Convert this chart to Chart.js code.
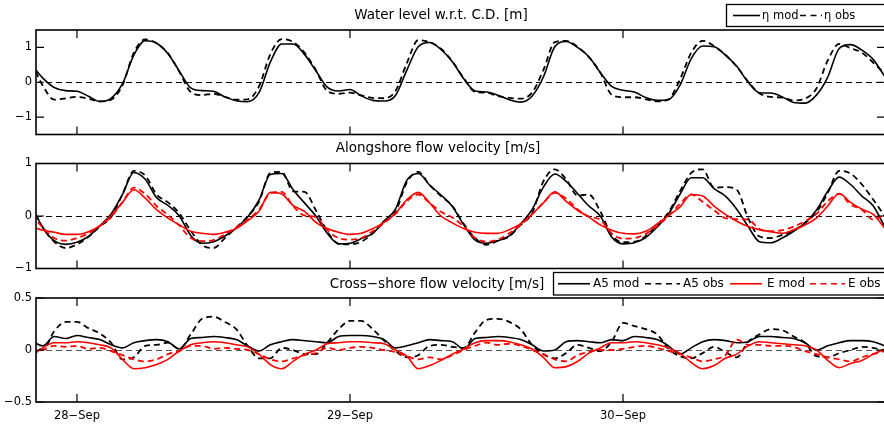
<!DOCTYPE html>
<html><head><meta charset="utf-8">
<script src="https://cdn.jsdelivr.net/npm/chart.js@4.4.0/dist/chart.umd.min.js"></script>
<style>
html,body{margin:0;padding:0;background:#fff;overflow:hidden;width:884px;height:424px;position:relative}
canvas{position:absolute;left:0;top:0}
</style></head><body>
<canvas id="c1" width="900" height="424"></canvas>
<canvas id="c2" width="900" height="424"></canvas>
<canvas id="c3" width="900" height="424"></canvas>
<script>
// time in hours relative to 28-Sep 00:00
const hours = [-4,-3,-2,-1,0,1,2,3,4,5,6,7,8,9,10,11,12,13,14,15,16,17,18,19,20,21,22,23,24,25,26,27,28,29,30,31,32,33,34,35,36,37,38,39,40,41,42,43,44,45,46,47,48,49,50,51,52,53,54,55,56,57,58,59,60,61,62,63,64,65,66,67,68,69,70,71];
const dayTicks = [0, 24, 48];
const dayLabels = ['28\u2212Sep', '29\u2212Sep', '30\u2212Sep'];

// Panel 1: water level [m]
const etaMod = [0.50,0.12,-0.15,-0.24,-0.26,-0.40,-0.55,-0.46,-0.04,0.78,1.19,1.12,0.82,0.32,-0.16,-0.24,-0.26,-0.42,-0.53,-0.56,-0.30,0.58,1.10,1.10,0.80,0.33,-0.14,-0.25,-0.21,-0.39,-0.52,-0.54,-0.38,0.35,1.02,1.14,0.94,0.59,0.10,-0.25,-0.28,-0.37,-0.50,-0.57,-0.40,0.15,1.02,1.17,1.00,0.73,0.28,-0.12,-0.23,-0.28,-0.44,-0.52,-0.50,-0.09,0.68,1.04,1.02,0.78,0.46,0.00,-0.30,-0.31,-0.42,-0.58,-0.60,-0.37,0.15,0.97,1.08,0.92,0.65,0.17];
const etaObs = [0.57,-0.10,-0.50,-0.46,-0.42,-0.47,-0.55,-0.50,-0.09,0.85,1.23,1.12,0.83,0.30,-0.28,-0.37,-0.33,-0.42,-0.50,-0.49,-0.12,0.81,1.24,1.16,0.85,0.35,-0.25,-0.33,-0.30,-0.38,-0.45,-0.46,-0.25,0.55,1.21,1.15,0.96,0.60,0.12,-0.28,-0.30,-0.40,-0.45,-0.47,-0.30,0.35,1.15,1.19,1.02,0.72,0.28,-0.36,-0.43,-0.43,-0.49,-0.55,-0.49,0.08,0.85,1.19,1.04,0.79,0.45,0.02,-0.32,-0.42,-0.44,-0.52,-0.47,-0.18,0.63,1.10,0.98,0.85,0.56,0.25];

// Panel 2: alongshore flow velocity [m/s]
const alongA5Mod = [0.20,-0.22,-0.47,-0.54,-0.50,-0.39,-0.19,0.04,0.41,0.83,0.70,0.35,0.20,0.00,-0.37,-0.52,-0.49,-0.38,-0.23,-0.02,0.30,0.79,0.81,0.50,0.25,0.00,-0.33,-0.53,-0.52,-0.43,-0.33,-0.09,0.13,0.68,0.81,0.59,0.40,0.18,-0.17,-0.46,-0.52,-0.47,-0.38,-0.15,0.12,0.55,0.80,0.66,0.43,0.19,0.00,-0.40,-0.53,-0.51,-0.41,-0.21,0.04,0.41,0.73,0.73,0.52,0.38,0.13,-0.20,-0.49,-0.51,-0.42,-0.29,-0.13,0.11,0.47,0.74,0.60,0.38,0.19,-0.20];
const alongA5Obs = [0.20,-0.22,-0.49,-0.61,-0.54,-0.40,-0.20,-0.02,0.41,0.86,0.77,0.41,0.26,0.05,-0.28,-0.55,-0.61,-0.42,-0.22,-0.01,0.27,0.82,0.84,0.47,0.46,0.11,-0.29,-0.53,-0.54,-0.49,-0.33,-0.12,0.08,0.64,0.84,0.59,0.38,0.19,-0.15,-0.42,-0.55,-0.47,-0.39,-0.17,0.05,0.66,0.89,0.70,0.39,0.41,0.09,-0.36,-0.50,-0.49,-0.38,-0.17,0.07,0.47,0.82,0.89,0.54,0.55,0.50,-0.04,-0.39,-0.42,-0.36,-0.28,-0.13,0.07,0.44,0.86,0.81,0.60,0.31,0.00];
const alongEMod = [-0.20,-0.27,-0.31,-0.35,-0.35,-0.30,-0.19,0.01,0.26,0.50,0.34,0.12,-0.04,-0.17,-0.29,-0.33,-0.35,-0.31,-0.24,-0.09,0.09,0.45,0.42,0.20,0.09,-0.12,-0.24,-0.31,-0.35,-0.33,-0.24,-0.12,0.05,0.31,0.45,0.25,0.00,-0.13,-0.24,-0.31,-0.33,-0.33,-0.26,-0.15,0.03,0.25,0.46,0.28,0.11,-0.02,-0.17,-0.27,-0.33,-0.34,-0.29,-0.15,0.01,0.17,0.41,0.38,0.19,0.03,-0.10,-0.20,-0.26,-0.30,-0.33,-0.26,-0.17,-0.04,0.19,0.43,0.26,0.13,0.03,-0.23];
const alongEObs = [0.03,-0.22,-0.42,-0.47,-0.42,-0.33,-0.19,-0.02,0.26,0.54,0.42,0.19,0.02,-0.18,-0.42,-0.48,-0.46,-0.35,-0.22,-0.07,0.12,0.43,0.46,0.19,0.01,-0.02,-0.27,-0.42,-0.45,-0.42,-0.29,-0.13,0.04,0.28,0.41,0.25,0.08,-0.03,-0.20,-0.42,-0.49,-0.45,-0.33,-0.17,0.03,0.25,0.44,0.33,0.13,-0.01,-0.07,-0.33,-0.43,-0.42,-0.34,-0.19,0.00,0.23,0.41,0.27,0.11,-0.04,-0.06,-0.07,-0.25,-0.29,-0.27,-0.20,-0.10,0.04,0.28,0.42,0.22,0.12,-0.07,0.03];

// Panel 3: cross-shore flow velocity [m/s]
const crossA5Mod = [0.09,0.04,0.13,0.11,0.14,0.12,0.10,0.05,0.02,0.07,0.09,0.10,0.08,0.01,0.11,0.12,0.13,0.12,0.10,0.04,-0.01,0.05,0.08,0.10,0.09,0.08,0.07,0.13,0.14,0.14,0.13,0.10,0.02,0.04,0.07,0.10,0.09,0.08,0.01,0.11,0.12,0.13,0.12,0.10,0.05,-0.01,0.00,0.08,0.09,0.08,0.07,0.10,0.09,0.13,0.12,0.10,0.04,-0.04,0.02,0.08,0.10,0.09,0.07,0.08,0.13,0.13,0.12,0.11,0.07,0.00,0.04,0.07,0.09,0.09,0.08,0.04];
const crossA5Obs = [0.07,0.00,0.18,0.27,0.27,0.21,0.16,0.07,-0.09,-0.07,0.04,0.05,0.07,0.01,0.15,0.30,0.32,0.27,0.20,0.04,-0.08,-0.08,0.02,0.00,-0.04,-0.04,0.07,0.20,0.28,0.28,0.20,0.09,-0.01,-0.07,-0.05,0.04,0.05,0.03,0.02,0.17,0.29,0.30,0.27,0.20,0.05,-0.04,-0.08,-0.03,0.05,0.02,-0.01,0.08,0.26,0.23,0.20,0.15,0.01,-0.06,-0.08,-0.03,0.03,-0.02,-0.07,0.08,0.15,0.20,0.19,0.13,0.07,-0.06,-0.07,-0.03,0.00,0.03,0.02,-0.01];
const crossEMod = [-0.06,0.02,0.07,0.07,0.08,0.07,0.05,0.02,-0.09,-0.18,-0.17,-0.14,-0.09,-0.01,0.05,0.07,0.08,0.07,0.05,0.03,-0.04,-0.14,-0.18,-0.11,-0.04,0.00,0.06,0.07,0.08,0.08,0.07,0.06,0.00,-0.06,-0.18,-0.15,-0.10,-0.04,0.01,0.07,0.09,0.09,0.08,0.05,0.01,-0.07,-0.17,-0.16,-0.11,-0.03,0.02,0.07,0.07,0.08,0.07,0.05,0.02,-0.03,-0.12,-0.18,-0.15,-0.08,-0.04,0.04,0.08,0.07,0.06,0.05,0.04,0.00,-0.10,-0.17,-0.13,-0.10,-0.04,0.01];
const crossEObs = [-0.02,0.00,0.04,0.03,0.04,0.01,0.02,-0.01,-0.05,-0.09,-0.11,-0.09,-0.04,-0.01,0.04,0.04,0.01,0.02,0.01,0.00,-0.04,-0.09,-0.11,-0.08,-0.05,-0.03,0.02,0.00,0.02,0.03,0.02,0.00,-0.02,-0.06,-0.09,-0.07,-0.09,-0.05,0.00,0.04,0.07,0.05,0.06,0.04,0.00,-0.04,-0.09,-0.11,-0.05,-0.02,0.00,0.00,0.01,0.03,0.04,0.02,-0.01,-0.04,-0.07,-0.11,-0.09,-0.05,0.10,0.05,0.05,0.04,0.04,0.03,-0.01,-0.04,-0.07,-0.09,-0.11,-0.07,-0.04,-0.01];

const yTicks1 = [-1, 0, 1], yLabels1 = ['\u22121', '0', '1'];
const yTicks2 = [-1, 0, 1], yLabels2 = ['\u22121', '0', '1'];
const yTicks3 = [-0.5, 0, 0.5], yLabels3 = ['\u22120.5', '0', '0.5'];

const FAM = 'DejaVu Sans';
const X_MIN = -3.6, X_MAX = 71.03;
const DASH = [6, 4];

function xy(arr) { return hours.map((h, i) => ({x: h, y: arr[i]})); }

const decor = {
  id: 'decor',
  beforeDatasetsDraw(chart, args, o) {
    const {ctx, chartArea: a, scales: {y}} = chart;
    const py = y.getPixelForValue(0);
    ctx.save();
    ctx.strokeStyle = o.zeroColor; ctx.lineWidth = 1; ctx.setLineDash([6, 4]);
    ctx.beginPath(); ctx.moveTo(a.left, Math.round(py) + 0.5); ctx.lineTo(a.right, Math.round(py) + 0.5); ctx.stroke();
    ctx.restore();
  },
  afterDatasetsDraw(chart, args, o) {
    const {ctx, chartArea: a, scales: {x, y}} = chart;
    ctx.save();
    ctx.setLineDash([]);
    ctx.strokeStyle = '#000';
    ctx.lineWidth = 1.6;
    ctx.strokeRect(a.left, a.top, a.right - a.left, a.bottom - a.top);
    ctx.lineWidth = 1.2;
    ctx.beginPath();
    o.yTicks.forEach(v => {
      const p = y.getPixelForValue(v);
      ctx.moveTo(a.left, p); ctx.lineTo(a.left + 8, p);
      ctx.moveTo(a.right, p); ctx.lineTo(a.right - 8, p);
    });
    dayTicks.forEach(v => {
      const p = x.getPixelForValue(v);
      ctx.moveTo(p, a.top); ctx.lineTo(p, a.top + 8);
      ctx.moveTo(p, a.bottom); ctx.lineTo(p, a.bottom - 8);
    });
    ctx.stroke();
    ctx.fillStyle = '#000';
    ctx.font = '13.5px "' + FAM + '"';
    ctx.textAlign = 'center'; ctx.textBaseline = 'middle';
    ctx.fillText(o.title, o.titleX, o.titleY);
    if (o.legend) {
      const L = o.legend;
      ctx.fillStyle = '#fff';
      ctx.fillRect(L.left, L.top, L.right - L.left, L.bottom - L.top);
      ctx.strokeStyle = '#000'; ctx.lineWidth = 1.3;
      ctx.strokeRect(L.left, L.top, L.right - L.left, L.bottom - L.top);
      const cy = (L.top + L.bottom) / 2;
      ctx.font = L.fontSize + 'px "' + FAM + '"';
      ctx.textAlign = 'left';
      L.items.forEach(it => {
        const ds = chart.data.datasets[it.ds];
        ctx.strokeStyle = ds.borderColor; ctx.lineWidth = 1.6;
        ctx.setLineDash(ds.borderDash ? [6, 4.5] : []);
        ctx.beginPath(); ctx.moveTo(it.x1, cy); ctx.lineTo(it.x2, cy); ctx.stroke();
        ctx.setLineDash([]);
        ctx.fillStyle = '#000';
        ctx.fillText(ds.label, it.tx, cy + 0.5);
      });
    }
    ctx.restore();
  }
};

function makePanel(id, p) {
  const xh = p.showX ? 22 : 0;
  return new Chart(document.getElementById(id), {
    type: 'line',
    data: { datasets: p.datasets },
    options: {
      responsive: false, animation: false, devicePixelRatio: 1,
      layout: { padding: { left: 0, right: 15, top: p.top, bottom: 424 - p.bottom - xh } },
      elements: { point: { radius: 0 }, line: { cubicInterpolationMode: 'monotone', borderWidth: 1.6 } },
      plugins: {
        legend: { display: false }, tooltip: { enabled: false }, title: { display: false },
        decor: { yTicks: p.yTicks, title: p.title, titleX: p.titleX, titleY: p.titleY, legend: p.legend, zeroColor: p.zeroColor }
      },
      scales: {
        x: {
          type: 'linear', min: X_MIN, max: X_MAX,
          grid: { display: false, drawTicks: false }, border: { display: false },
          afterBuildTicks: s => { s.ticks = dayTicks.map(v => ({ value: v })); },
          afterFit: s => { s.height = xh; },
          ticks: { display: p.showX, autoSkip: false, maxRotation: 0, padding: 7, color: '#000',
                   font: { family: FAM, size: 11.5 }, callback: (v, i) => dayLabels[i] }
        },
        y: {
          min: p.ymin, max: p.ymax,
          grid: { display: false, drawTicks: false }, border: { display: false },
          afterBuildTicks: s => { s.ticks = p.yTicks.map(v => ({ value: v })); },
          afterFit: s => { s.width = 36; },
          ticks: { padding: 4, color: '#000', font: { family: FAM, size: 11.5 }, callback: (v, i) => p.yLabels[i] }
        }
      }
    },
    plugins: [decor]
  });
}

makePanel('c1', {
  top: 30, bottom: 134.5, ymin: -1.5, ymax: 1.5, yTicks: yTicks1, yLabels: yLabels1, showX: false,
  title: 'Water level w.r.t. C.D. [m]', titleX: 441, titleY: 15, zeroColor: '#000',
  datasets: [
    { label: '\u03b7 mod', data: xy(etaMod), borderColor: '#000', order: 2 },
    { label: '\u03b7 obs', data: xy(etaObs), borderColor: '#000', borderDash: DASH, borderWidth: 1.8, order: 1 }
  ],
  legend: { left: 726.5, top: 4.5, right: 895, bottom: 26.5, fontSize: 11.5,
            items: [ { ds: 0, x1: 733, x2: 760, tx: 762 }, { ds: 1, x1: 800, x2: 822, tx: 824 } ] }
});

makePanel('c2', {
  top: 163.5, bottom: 268.5, ymin: -1, ymax: 1, yTicks: yTicks2, yLabels: yLabels2, showX: false,
  title: 'Alongshore flow velocity [m/s]', titleX: 438, titleY: 148, zeroColor: '#000',
  datasets: [
    { label: 'A5 mod', data: xy(alongA5Mod), borderColor: '#000', order: 4 },
    { label: 'A5 obs', data: xy(alongA5Obs), borderColor: '#000', borderDash: DASH, borderWidth: 1.8, order: 3 },
    { label: 'E mod', data: xy(alongEMod), borderColor: '#ff0000', order: 2 },
    { label: 'E obs', data: xy(alongEObs), borderColor: '#ff0000', borderDash: DASH, borderWidth: 1.8, order: 1 }
  ],
  legend: null
});

makePanel('c3', {
  top: 298, bottom: 402, ymin: -0.5, ymax: 0.5, yTicks: yTicks3, yLabels: yLabels3, showX: true,
  title: 'Cross\u2212shore flow velocity [m/s]', titleX: 437, titleY: 284, zeroColor: '#555',
  datasets: [
    { label: 'A5 mod', data: xy(crossA5Mod), borderColor: '#000', order: 4 },
    { label: 'A5 obs', data: xy(crossA5Obs), borderColor: '#000', borderDash: DASH, borderWidth: 1.8, order: 3 },
    { label: 'E mod', data: xy(crossEMod), borderColor: '#ff0000', order: 2 },
    { label: 'E obs', data: xy(crossEObs), borderColor: '#ff0000', borderDash: DASH, borderWidth: 1.8, order: 1 }
  ],
  legend: { left: 553.5, top: 272.5, right: 895, bottom: 295, fontSize: 12,
            items: [ { ds: 0, x1: 558, x2: 590, tx: 593 }, { ds: 1, x1: 645, x2: 680, tx: 683 },
                     { ds: 2, x1: 730, x2: 762, tx: 767 }, { ds: 3, x1: 810, x2: 845, tx: 848 } ] }
});
</script>
</body></html>
